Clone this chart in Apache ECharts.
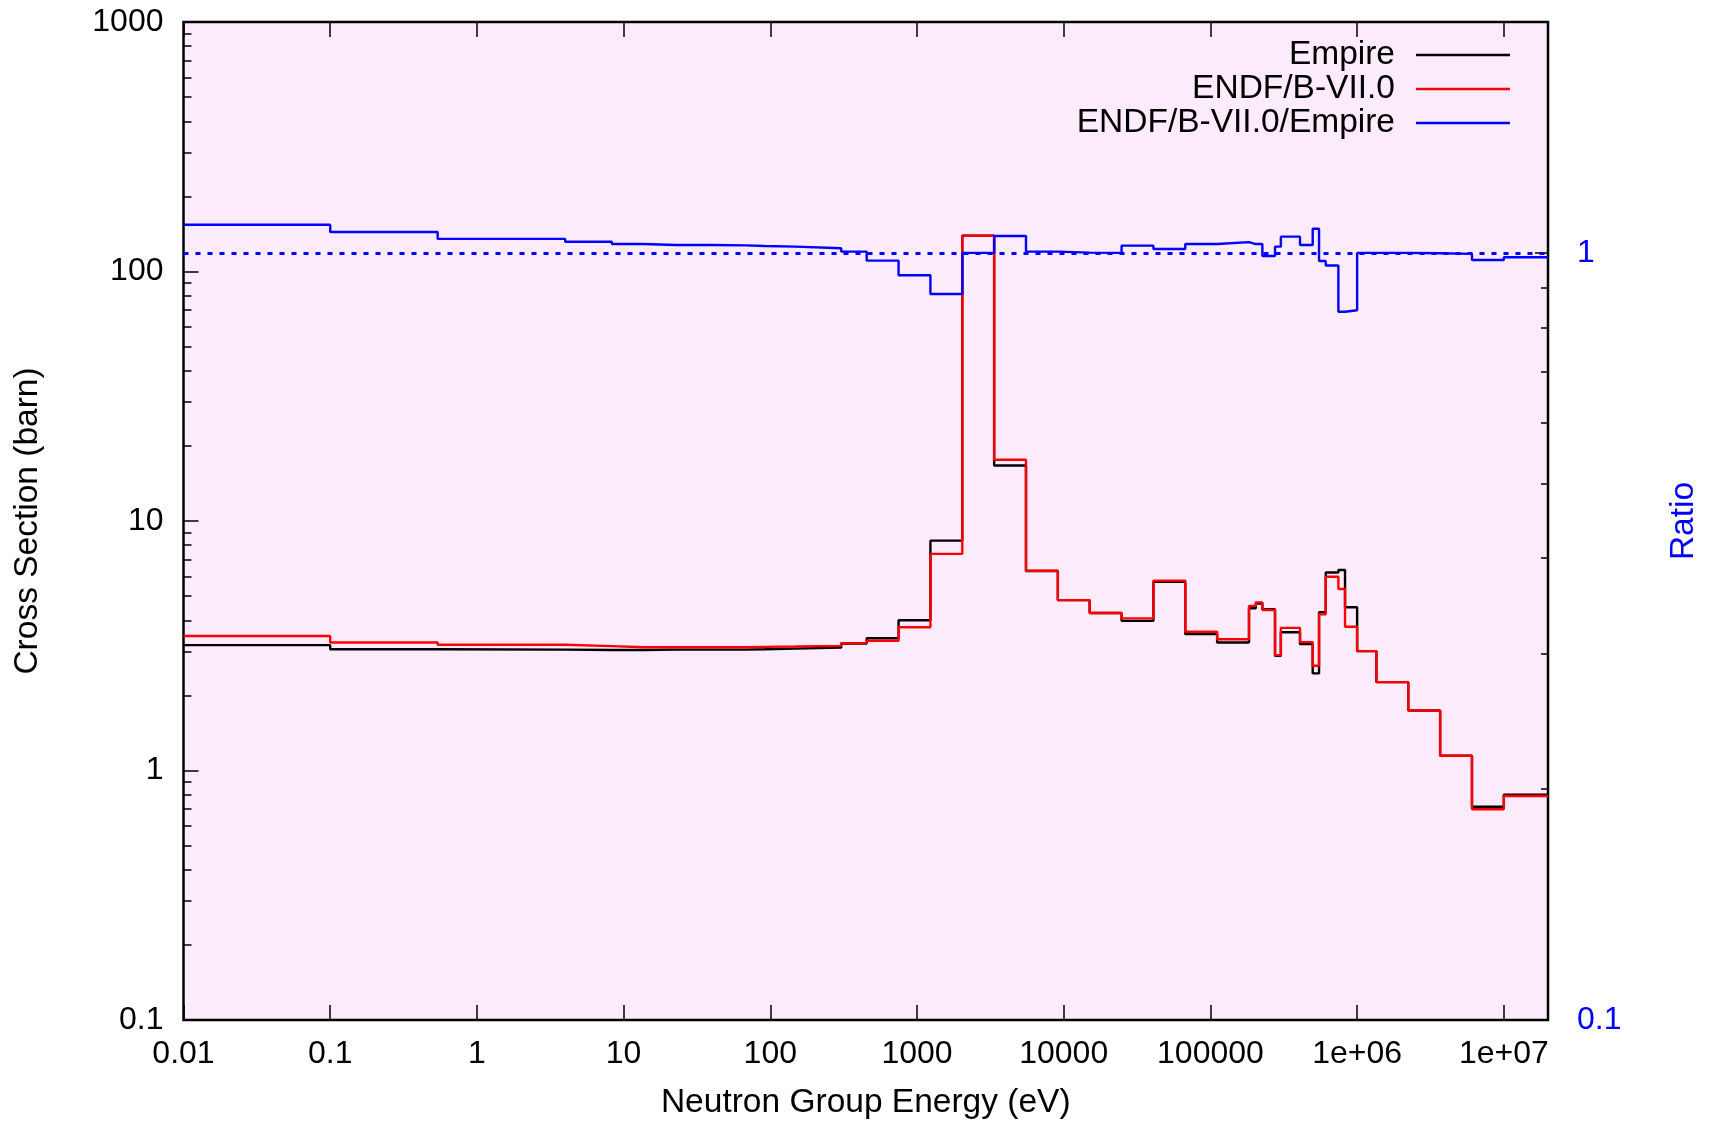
<!DOCTYPE html>
<html>
<head>
<meta charset="utf-8">
<script src="https://cdn.jsdelivr.net/npm/echarts@6/dist/echarts.min.js"></script>
<style>
html,body{margin:0;padding:0;background:#ffffff;}
#chart{width:1711px;height:1125px;}
</style>
</head>
<body>
<div id="chart"></div>
<script>
// Group boundaries (eV)
const edges = [0.01, 0.1, 0.54, 4.0, 8.315, 13.71, 22.6, 40.17, 67.9, 91.66, 148.6, 304.3, 454, 748.5,
  1234, 2035, 3355, 5531, 9119, 15030, 24790, 40870, 67380, 111100, 183200, 203700, 226000, 275600,
  302000, 408000, 497900, 550000, 611000, 745000, 827000, 1000000, 1353000, 2231000, 3679000,
  6065000, 10000000, 20000000];
// Group cross sections (barn)
const empire = [3.18, 3.06, 3.05, 3.04, 3.04, 3.05, 3.05, 3.05, 3.06, 3.08, 3.11, 3.23, 3.39, 4.00,
  8.34, 139, 16.7, 6.30, 4.82, 4.28, 3.98, 5.70, 3.52, 3.26, 4.47, 4.67, 4.43, 2.88,
  3.58, 3.21, 2.45, 4.31, 6.22, 6.36, 4.51, 3.01, 2.26, 1.74, 1.146, 0.716, 0.80];
const endf = [3.46, 3.26, 3.19, 3.15, 3.12, 3.12, 3.12, 3.12, 3.13, 3.14, 3.16, 3.24, 3.31, 3.75,
  7.38, 139, 17.6, 6.32, 4.82, 4.28, 4.07, 5.77, 3.60, 3.36, 4.57, 4.72, 4.40, 2.90,
  3.73, 3.27, 2.63, 4.23, 5.98, 5.34, 3.77, 3.01, 2.26, 1.74, 1.146, 0.699, 0.79];
const ratio = [1.088, 1.065, 1.043, 1.034, 1.027, 1.024, 1.024, 1.023, 1.021, 1.019, 1.014, 1.004, 0.977, 0.935,
  0.884, 1.0, 1.052, 1.004, 1.001, 1.0, 1.022, 1.012, 1.027, 1.033, 1.027, 1.027, 0.991, 1.019,
  1.050, 1.024, 1.075, 0.976, 0.963, 0.838, 0.842, 1.0, 1.0, 0.999, 0.997, 0.979, 0.987];
const ratioRef = 1;
// Tick labels
const xTickExp = [-2, -1, 0, 1, 2, 3, 4, 5, 6, 7];
const xTickLabels = ['0.01', '0.1', '1', '10', '100', '1000', '10000', '100000', '1e+06', '1e+07'];
const yTickExp = [-1, 0, 1, 2, 3];
const yTickLabels = ['0.1', '1', '10', '100', '1000'];
const y2TickExp = [-1, 0];
const y2TickLabels = ['0.1', '1'];

function steps(vals) {
  const d = vals.map((v, i) => [edges[i], v]);
  d.push([edges[edges.length - 1], vals[vals.length - 1]]);
  return d;
}
function labelFrom(exps, labels) {
  return function (v) {
    const e = Math.log10(v);
    const r = Math.round(e);
    if (Math.abs(e - r) > 1e-6) return '';
    const i = exps.indexOf(r);
    return i >= 0 ? labels[i] : '';
  };
}

const FONT = '"Liberation Sans", Arial, Helvetica, sans-serif';
const chart = echarts.init(document.getElementById('chart'), null, {renderer: 'canvas'});
chart.setOption({
  animation: false,
  backgroundColor: '#ffffff',
  textStyle: {fontFamily: FONT},
  grid: {left: 183.5, right: 163, top: 22, bottom: 105, show: true,
    backgroundColor: '#fcebfb', borderColor: '#000000', borderWidth: 2.5},
  legend: {
    orient: 'vertical', align: 'right', right: 196, top: 33,
    icon: 'rect', itemWidth: 94, itemHeight: 2.5, itemGap: 0,
    textStyle: {fontSize: 33.5, color: '#000', fontFamily: FONT, lineHeight: 33, padding: [0, 16, 0, 0]},
    data: ['Empire', 'ENDF/B-VII.0', 'ENDF/B-VII.0/Empire']
  },
  xAxis: [{
    type: 'log', min: 0.01, max: 20000000, position: 'bottom',
    name: 'Neutron Group Energy (eV)', nameLocation: 'middle', nameGap: 66,
    nameTextStyle: {fontSize: 33.5, color: '#000', fontFamily: FONT},
    axisLine: {show: false},
    axisTick: {show: true, inside: true, length: 15, lineStyle: {color: '#000', width: 1.5}},
    splitLine: {show: false},
    axisLabel: {fontSize: 32, color: '#000', fontFamily: FONT, margin: 18,
      formatter: labelFrom(xTickExp, xTickLabels), showMaxLabel: false}
  }, {
    type: 'log', min: 0.01, max: 20000000, position: 'top',
    axisLine: {show: false},
    axisTick: {show: true, inside: true, length: 15, lineStyle: {color: '#000', width: 1.5}},
    splitLine: {show: false},
    axisLabel: {show: false}
  }],
  yAxis: [{
    type: 'log', min: 0.1, max: 1000, position: 'left',
    name: 'Cross Section (barn)', nameLocation: 'middle', nameGap: 139, nameRotate: 90,
    nameTextStyle: {fontSize: 33.5, color: '#000', fontFamily: FONT},
    axisLine: {show: false},
    axisTick: {show: true, inside: true, length: 15, lineStyle: {color: '#000', width: 1.5}},
    minorTick: {show: true, splitNumber: 9, length: 8, lineStyle: {color: '#000', width: 1.5}},
    splitLine: {show: false},
    axisLabel: {fontSize: 32, color: '#000', fontFamily: FONT, margin: 20,
      formatter: labelFrom(yTickExp, yTickLabels)}
  }, {
    type: 'log', min: 0.1, max: 2, position: 'right',
    name: 'Ratio', nameLocation: 'middle', nameGap: 119, nameRotate: 90,
    nameTextStyle: {fontSize: 33.5, color: '#0000ff', fontFamily: FONT},
    axisLine: {show: false},
    axisTick: {show: true, inside: true, length: 13, lineStyle: {color: '#000', width: 1.5}},
    minorTick: {show: true, splitNumber: 9, length: 7, lineStyle: {color: '#000', width: 1.5}},
    splitLine: {show: false},
    axisLabel: {fontSize: 32, color: '#0000ff', fontFamily: FONT, margin: 29,
      formatter: labelFrom(y2TickExp, y2TickLabels)}
  }],
  series: [{
    name: 'Empire', type: 'line', step: 'end', data: steps(empire),
    xAxisIndex: 0, yAxisIndex: 0, symbol: 'none', showSymbol: false, clip: true,
    color: '#000000', lineStyle: {color: '#000000', width: 2.4}, z: 3
  }, {
    name: 'ENDF/B-VII.0', type: 'line', step: 'end', data: steps(endf),
    xAxisIndex: 0, yAxisIndex: 0, symbol: 'none', showSymbol: false, clip: true,
    color: '#ff0000', lineStyle: {color: '#ff0000', width: 2.4}, z: 4
  }, {
    name: 'ENDF/B-VII.0/Empire', type: 'line', step: 'end', data: steps(ratio),
    xAxisIndex: 0, yAxisIndex: 1, symbol: 'none', showSymbol: false, clip: true,
    color: '#0000ff', lineStyle: {color: '#0000ff', width: 2.4}, z: 5,
    markLine: {
      silent: true, symbol: ['none', 'none'], label: {show: false},
      lineStyle: {color: '#0000ff', width: 3, type: [5, 7]},
      data: [{yAxis: ratioRef}]
    }
  }]
});
</script>
</body>
</html>
